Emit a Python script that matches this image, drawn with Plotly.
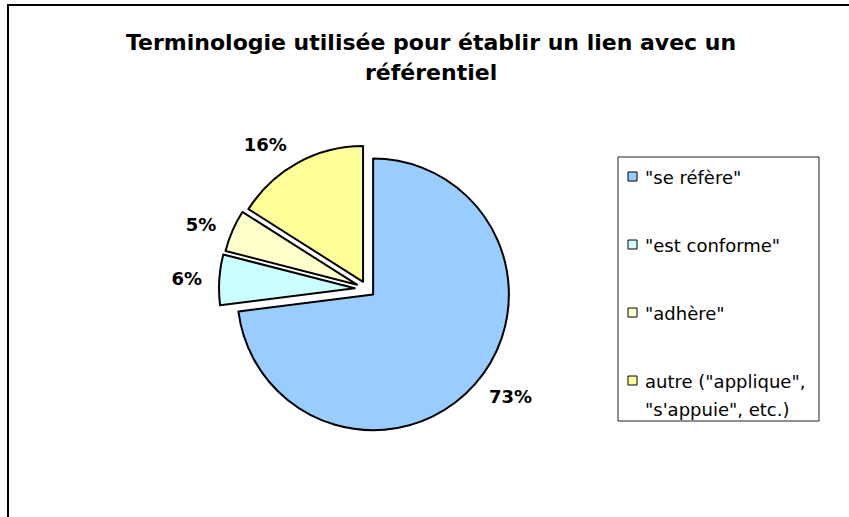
import plotly.graph_objects as go

categories = ['"se réfère"', '"est conforme"', '"adhère"', 'autre ("applique",<br>"s\'appuie", etc.)']
values = [73, 6, 5, 16]
colors = ["#99CCFF", "#CCFFFF", "#FFFFCC", "#FFFF99"]
pulls = [0.06, 0.09, 0.08, 0.06]
title_lines = ["Terminologie utilisée pour établir un lien avec un", "référentiel"]

W, H = 849, 517
FONT = "DejaVu Sans, Liberation Sans, Arial, sans-serif"

def px(x):
    return x / W

def py(y):
    return 1 - y / H

# pie geometry (pixels): centre and half-size of the domain
cx, cy, half = 367, 289, 148
label_half = half + 12  # text-only pie, slightly larger, to push labels outward

fig = go.Figure()
fig.add_trace(go.Pie(
    labels=categories,
    values=values,
    marker=dict(colors=colors, line=dict(color="black", width=2)),
    pull=pulls,
    sort=False,
    direction="clockwise",
    rotation=0,
    textinfo="none",
    showlegend=False,
    hoverinfo="label+percent",
    domain=dict(x=[px(cx - half), px(cx + half)], y=[py(cy + half), py(cy - half)]),
))
# labels only
fig.add_trace(go.Pie(
    labels=categories,
    values=values,
    marker=dict(colors=["rgba(0,0,0,0)"] * len(values), line=dict(width=0)),
    pull=pulls,
    sort=False,
    direction="clockwise",
    rotation=0,
    textinfo="percent",
    texttemplate="%{percent:.0%}",
    textposition="outside",
    textfont=dict(family=FONT, size=18, color="black", weight="bold"),
    showlegend=False,
    hoverinfo="skip",
    domain=dict(x=[px(cx - label_half), px(cx + label_half)],
                y=[py(cy + label_half), py(cy - label_half)]),
))

shapes = []
annotations = []
# outer chart frame
shapes.append(dict(type="rect", xref="paper", yref="paper",
                   x0=px(8), y0=py(5), x1=px(870), y1=py(540),
                   line=dict(color="black", width=2), fillcolor="rgba(0,0,0,0)"))
# title
for i, t in enumerate(title_lines):
    annotations.append(dict(text="<b>" + t + "</b>", xref="paper", yref="paper",
                            x=px(431), y=py(43 + 29 * i), showarrow=False,
                            xanchor="center", yanchor="middle",
                            font=dict(family=FONT, size=22, color="black")))
# legend box
shapes.append(dict(type="rect", xref="paper", yref="paper",
                   x0=px(618), y0=py(157), x1=px(819), y1=py(421),
                   line=dict(color="#222222", width=1), fillcolor="white", layer="below"))
y0, step, line_h = 177, 68, 28
for i, (lab, col) in enumerate(zip(categories, colors)):
    yc = y0 + step * i
    shapes.append(dict(type="rect", xref="paper", yref="paper",
                       x0=px(628), y0=py(yc - 5), x1=px(637), y1=py(yc + 4),
                       line=dict(color="black", width=1), fillcolor=col))
    for j, part in enumerate(lab.split("<br>")):
        annotations.append(dict(text=part, xref="paper", yref="paper",
                                x=px(643), y=py(yc + line_h * j), showarrow=False,
                                xanchor="left", yanchor="middle",
                                font=dict(family=FONT, size=18, color="black")))

fig.update_layout(
    width=W, height=H,
    margin=dict(l=0, r=0, t=0, b=0),
    paper_bgcolor="white",
    plot_bgcolor="white",
    shapes=shapes,
    annotations=annotations,
    showlegend=False,
)

fig.write_html("out.html", config={"displayModeBar": False},
               post_script="document.body.style.margin='0';")
